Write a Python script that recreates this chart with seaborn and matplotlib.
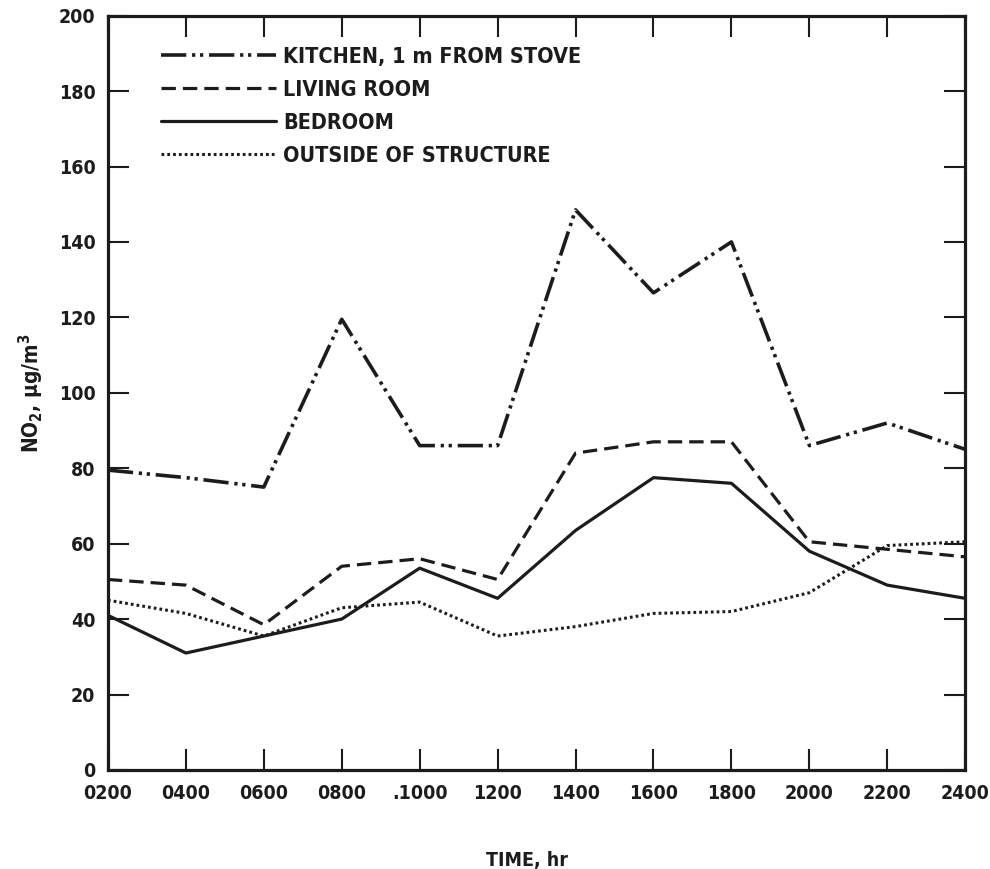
import matplotlib
matplotlib.use("Agg")
import matplotlib.pyplot as plt
import seaborn as sns
import pandas as pd

# Hourly NO2 concentrations (ug/m3) at four monitoring locations
hours = [2, 4, 6, 8, 10, 12, 14, 16, 18, 20, 22, 24]
hour_labels = ["0200", "0400", "0600", "0800", ".1000", "1200",
               "1400", "1600", "1800", "2000", "2200", "2400"]

kitchen = [79.5, 77.5, 75, 119.5, 86, 86, 148.5, 126.5, 140, 86, 92, 85]
living_room = [50.5, 49, 38.5, 54, 56, 50.5, 84, 87, 87, 60.5, 58.5, 56.5]
bedroom = [41, 31, 35.5, 40, 53.5, 45.5, 63.5, 77.5, 76, 58, 49, 45.5]
outside = [45, 41.5, 35.5, 43, 44.5, 35.5, 38, 41.5, 42, 47, 59.5, 60.5]

series_names = ["KITCHEN, 1 m FROM STOVE", "LIVING ROOM", "BEDROOM",
                "OUTSIDE OF STRUCTURE"]
series_values = [kitchen, living_room, bedroom, outside]

y_ticks = [0, 20, 40, 60, 80, 100, 120, 140, 160, 180, 200]

sns.set_theme(style="white")
plt.rcParams["font.family"] = ["DejaVu Sans"]
plt.rcParams["font.stretch"] = "condensed"
plt.rcParams["font.weight"] = "bold"
plt.rcParams["mathtext.fontset"] = "dejavusans"
plt.rcParams["mathtext.default"] = "bf"

ink = "#1c1c1c"

fig = plt.figure(figsize=(9.9, 8.69), dpi=100)
ax = fig.add_axes([0.109, 0.114, 0.866, 0.868])

styles = [
    (0, (7, 1.6, 0.9, 1.3, 0.9, 1.6)),   # long dash, dot, dot
    (0, (4.5, 2.2)),                     # dashed
    "solid",
    (0, (0.9, 1.0)),                     # dotted
]
widths = [2.6, 2.3, 2.3, 2.2]

for name, vals, ls, lw in zip(series_names, series_values, styles, widths):
    df = pd.DataFrame({"hour": hours, "no2": vals})
    sns.lineplot(data=df, x="hour", y="no2", ax=ax, color=ink,
                 linewidth=lw, linestyle=ls, label=name)

ax.set_xlim(2, 24)
ax.set_ylim(0, 200)
ax.set_xticks(hours)
ax.set_xticklabels(hour_labels)
ax.set_yticks(y_ticks)
ax.set_yticklabels([str(v) for v in y_ticks])

for side in ["left", "right", "top", "bottom"]:
    ax.spines[side].set_visible(True)
    ax.spines[side].set_color(ink)
    ax.spines[side].set_linewidth(2.3)

ax.tick_params(axis="both", which="major", direction="in", length=15,
               width=1.5, color=ink, labelsize=14, labelcolor=ink,
               top=True, right=True, left=True, bottom=True)
ax.tick_params(axis="y", pad=9)
ax.tick_params(axis="x", pad=10)
for lab in ax.get_xticklabels() + ax.get_yticklabels():
    lab.set_fontweight("bold")
    lab.set_fontstretch("condensed")

ax.set_xlabel("TIME, hr", fontsize=14, fontweight="bold", color=ink)
ax.xaxis.set_label_coords(0.489, -0.108)
ax.set_ylabel(r"NO$_2$, $\mu$g/m$^3$", fontsize=15, fontweight="bold",
              color=ink)
ax.yaxis.set_label_coords(-0.072, 0.50)

leg = ax.legend(loc="upper left", bbox_to_anchor=(0.052, 0.970),
                frameon=False, handlelength=5.35, handletextpad=0.33,
                labelspacing=0.6, borderaxespad=0,
                prop={"size": 15.5, "weight": "bold", "stretch": "condensed"})
for t in leg.get_texts():
    t.set_color(ink)

fig.savefig("out.png", dpi=100, facecolor="white")
